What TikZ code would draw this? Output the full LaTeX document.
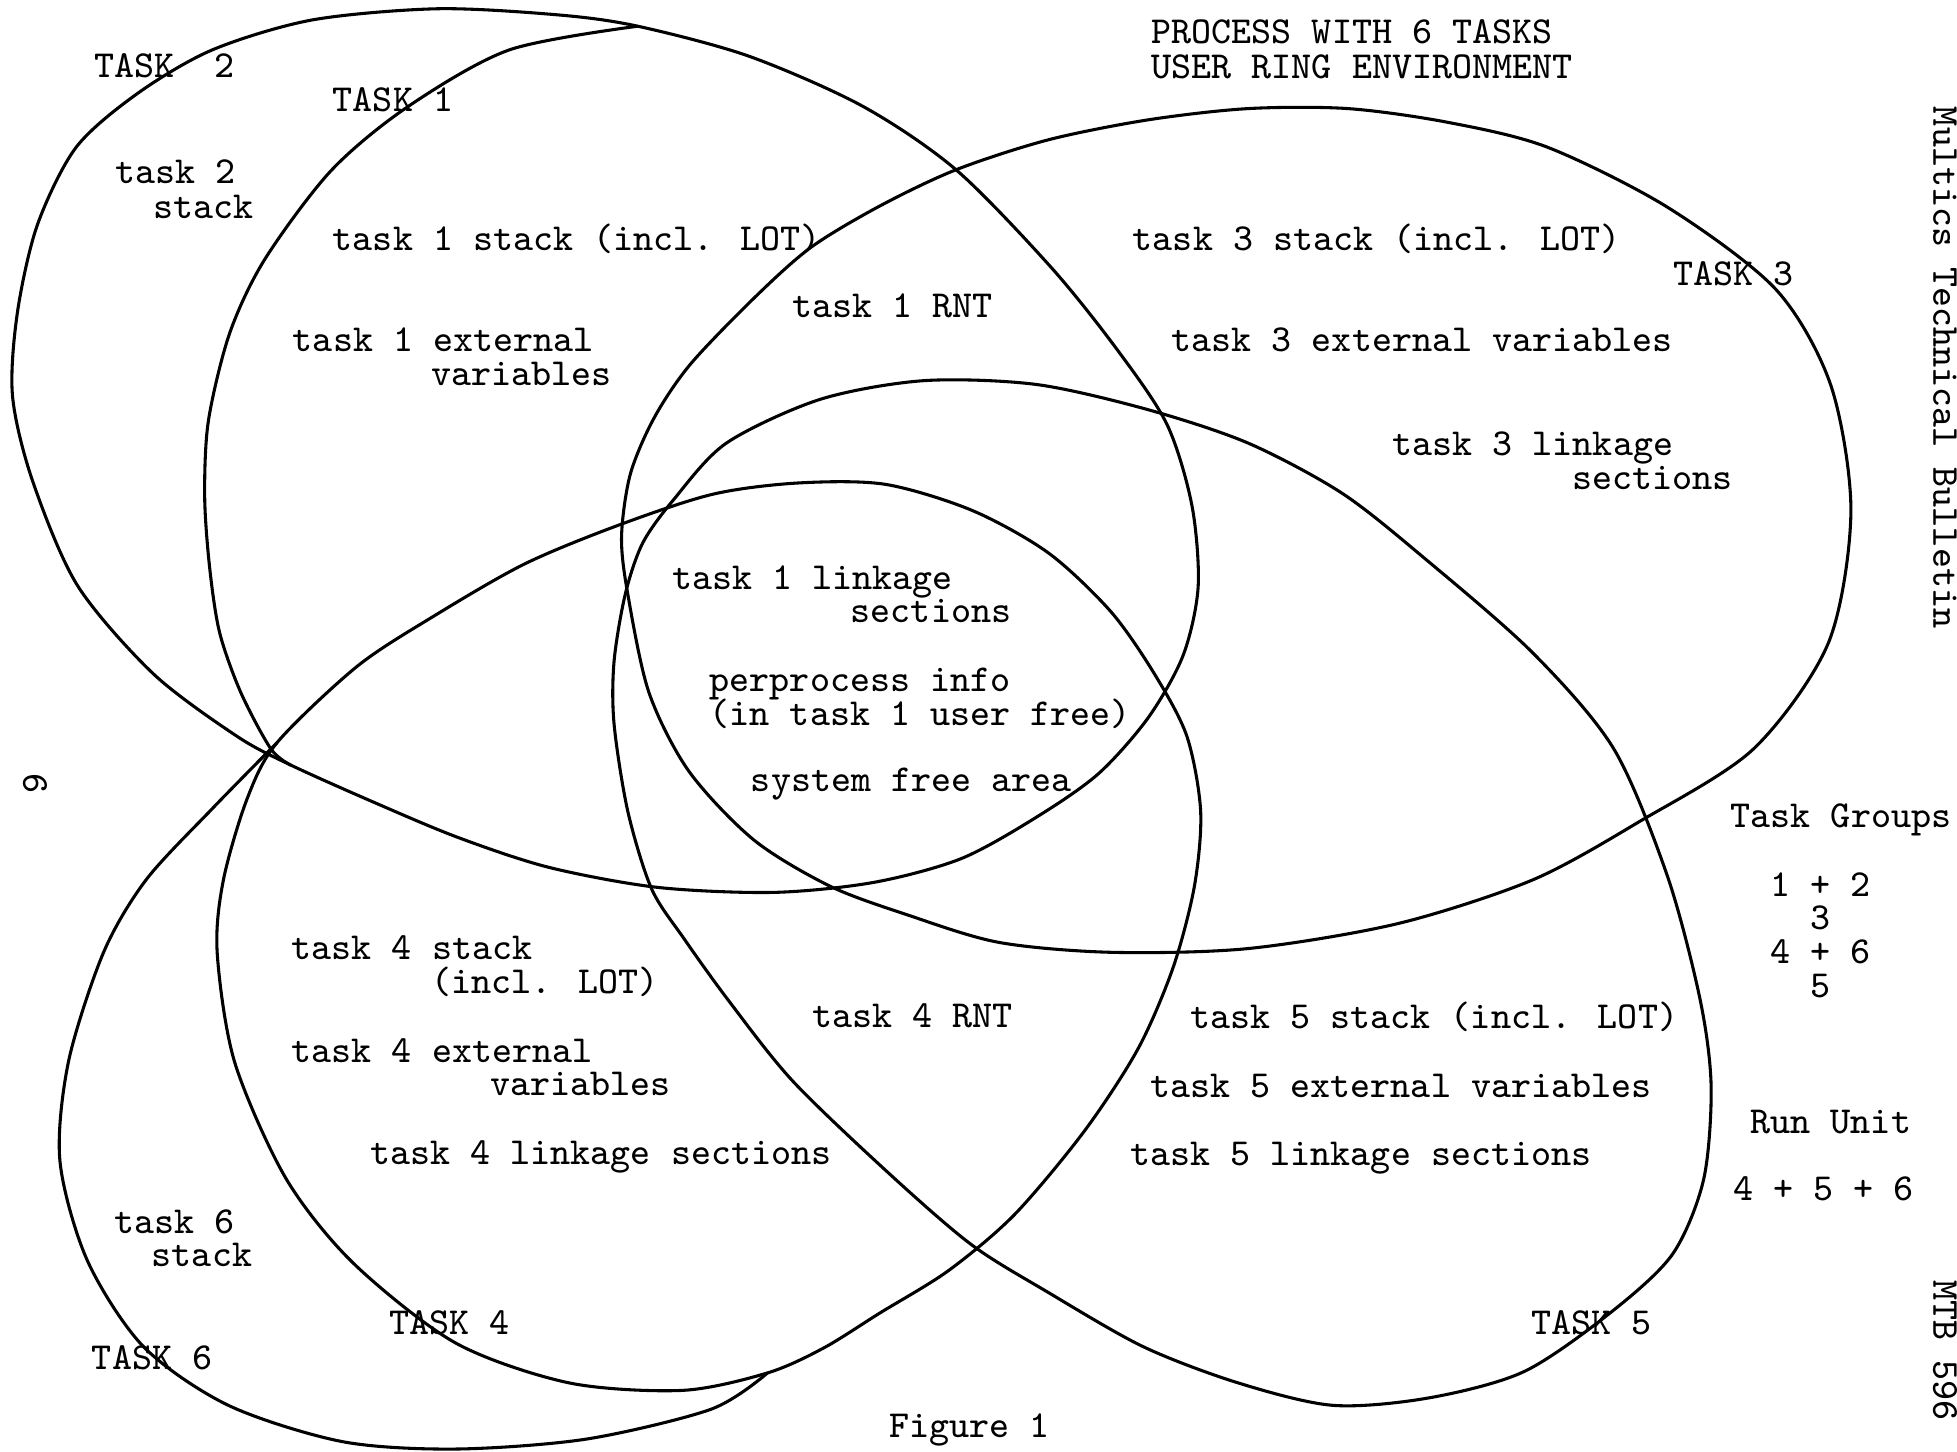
\documentclass[tikz,border=0pt]{standalone}
\newcommand{\tw}{\fontsize{8.7}{7.7}\selectfont\ttfamily}

\begin{document}
\begin{tikzpicture}[x=0.01cm, y=-0.01cm, line join=round,
    loopline/.style={line width=0.7pt},
    lbl/.style={font=\tw, anchor=base west, inner sep=0pt}]
\useasboundingbox (0,0) rectangle (1568,1163);

% task 1 and task 2 share their right side
\draw[loopline] plot[smooth cycle] coordinates {(511,21) (600,45) (691,85) (766,136) (842,214) (895,280) (935,340) (955,405) (960,470) (948,525) (920,575) (880,620) (830,655) (770,688) (700,707) (620,715) (527,711) (440,695) (367,671) (300,643) (233,613) (190,590) (123,540) (62,469) (26,385) (10,317) (14,250) (30,180) (61,118) (110,75) (170,40) (250,16) (351,7) (448,12)};
\draw[loopline] plot[smooth] coordinates {(511,21) (408,40) (326,86) (265,137) (212,208) (184,267) (167,337) (164,398) (168,455) (176,507) (193,555) (217,600) (233,613)};

% task 3
\draw[loopline] plot[smooth cycle] coordinates {(503,476) (498,430) (505,380) (524,335) (553,292) (605,238) (650,198) (705,165) (766,136) (840,112) (920,96) (1000,87) (1080,87) (1160,98) (1240,118) (1336,166) (1423,232) (1467,309) (1483,410) (1465,515) (1405,600) (1314,658) (1228,705) (1120,740) (1000,760) (890,763) (800,755) (727,733) (665,710) (604,673) (552,618) (520,555)};

% task 5
\draw[loopline] plot[smooth cycle] coordinates {(657,320) (740,305) (830,308) (919,328) (1000,355) (1075,395) (1141,447) (1228,523) (1293,600) (1336,702) (1362,800) (1371,870) (1365,945) (1340,1005) (1290,1052) (1221,1099) (1145,1120) (1068,1126) (992,1108) (916,1079) (839,1035) (778,997) (711,939) (635,866) (584,802) (548,752) (522,712) (503,650) (492,580) (492,530) (501,476) (515,435) (540,400) (582,355)};

% task 4 and task 6 share their upper right side
\draw[loopline] plot[smooth cycle] coordinates {(222,595) (286,534) (347,494) (420,452) (495,421) (571,396) (639,387) (709,388) (779,409) (840,443) (890,490) (925,540) (951,590) (962,650) (957,710) (940,775) (912,840) (869,906) (813,973) (760,1018) (705,1052) (660,1080) (615,1100) (547,1114) (456,1108) (365,1076) (283,1012) (229,944) (188,851) (174,763) (179,705) (198,640)};
\draw[loopline] plot[smooth] coordinates {(615,1100) (570,1129) (470,1153) (365,1161) (274,1155) (183,1126) (115,1079) (70,1010) (48,930) (55,850) (83,763) (117,705) (170,648) (222,595)};

% loop names
\node[lbl] (name2) at (75,62) {TASK~~2};
\node[lbl] (name1) at (266,89) {TASK 1};
\node[lbl] (name3) at (1340,229) {TASK 3};
\node[lbl] (name4) at (311,1069) {TASK 4};
\node[lbl] (name5) at (1226,1069) {TASK 5};
\node[lbl] (name6) at (73,1097) {TASK 6};

% heading
\node[lbl] (head1) at (922,35) {PROCESS WITH 6 TASKS};
\node[lbl] (head2) at (922,63) {USER RING ENVIRONMENT};

% areas
\node[lbl] (t2stack) at (92,147) {task 2};
\node[lbl] (t2stackb) at (122,175) {stack};
\node[lbl] (t1stack) at (266,201) {task 1 stack (incl. LOT)};
\node[lbl] (t1ext) at (234,282) {task 1 external};
\node[lbl] (t1extb) at (345,309) {variables};
\node[lbl] (t1rnt) at (634,254) {task 1 RNT};
\node[lbl] (t3stack) at (907,201) {task 3 stack (incl. LOT)};
\node[lbl] (t3ext) at (938,282) {task 3 external variables};
\node[lbl] (t3link) at (1115,365) {task 3 linkage};
\node[lbl] (t3linkb) at (1259,392) {sections};
\node[lbl] (t1link) at (538,472) {task 1 linkage};
\node[lbl] (t1linkb) at (681,499) {sections};
\node[lbl] (ppinfo) at (568,554) {perprocess info};
\node[lbl] (ppinfob) at (568,581) {(in task 1 user free)};
\node[lbl] (sysfree) at (601,634) {system free area};
\node[lbl] (t4stack) at (233,769) {task 4 stack};
\node[lbl] (t4stackb) at (345,796) {(incl. LOT)};
\node[lbl] (t4rnt) at (650,823) {task 4 RNT};
\node[lbl] (t5stack) at (953,824) {task 5 stack (incl. LOT)};
\node[lbl] (t4ext) at (233,851) {task 4 external};
\node[lbl] (t4extb) at (392,878) {variables};
\node[lbl] (t5ext) at (921,879) {task 5 external variables};
\node[lbl] (t4link) at (296,933) {task 4 linkage sections};
\node[lbl] (t5link) at (905,934) {task 5 linkage sections};
\node[lbl] (t6stack) at (91,988) {task 6};
\node[lbl] (t6stackb) at (121,1015) {stack};

% groups
\node[lbl] (groups) at (1386,663) {Task Groups};
\node[lbl] (grpa) at (1418,718) {1 + 2};
\node[lbl] (grpb) at (1450,745) {3};
\node[lbl] (grpc) at (1418,772) {4 + 6};
\node[lbl] (grpd) at (1450,799) {5};
\node[lbl] (rununit) at (1402,908) {Run Unit};
\node[lbl] (runlist) at (1388,962) {4 + 5 + 6};

\node[lbl] (caption) at (712,1152) {Figure 1};

% page margin
\node[lbl, anchor=center, rotate=-90] (pageno) at (28,628) {6};
\node[lbl, rotate=-90] (mtbhead) at (1549,85) {Multics Technical Bulletin};
\node[lbl, rotate=-90] (mtbnum) at (1549,1025) {MTB 596};
\end{tikzpicture}
\end{document}
